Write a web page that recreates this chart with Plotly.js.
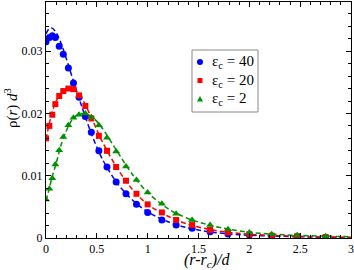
<!DOCTYPE html>
<html><head><meta charset="utf-8">
<script src="https://cdn.plot.ly/plotly-3.0.1.min.js"></script>
<style>html,body{margin:0;padding:0;background:#fff;}#chart{width:354px;height:270px;}</style>
</head><body><div id="chart"></div>
<script>
// sampled points (markers)
var pointX = [0, 0.033, 0.062, 0.092, 0.13, 0.17, 0.22, 0.27, 0.325, 0.387, 0.446, 0.52, 0.6, 0.69, 0.787, 0.89, 1.0, 1.14, 1.28, 1.437, 1.614, 1.79, 2.0, 2.22, 2.47, 2.75];
var eps40 = [0.0315, 0.0322, 0.0325, 0.0322, 0.0308, 0.0295, 0.0273, 0.0249, 0.0226, 0.0195, 0.0170, 0.0140, 0.0114, 0.0090, 0.0071, 0.0054, 0.0041, 0.0029, 0.0021, 0.00155, 0.0010, 0.00064, 0.00048, 0.0003, 0.0002, 0.0001];
var eps20 = [0.0160, 0.0180, 0.0198, 0.0215, 0.0228, 0.0236, 0.0240, 0.0239, 0.0229, 0.0212, 0.0192, 0.0164, 0.0140, 0.0114, 0.0092, 0.0071, 0.0054, 0.0041, 0.0029, 0.0021, 0.0013, 0.0009, 0.0006, 0.00037, 0.00027, 0.00016];
var eps2  = [0.0062, 0.0079, 0.0096, 0.0118, 0.0141, 0.0162, 0.0181, 0.0193, 0.0198, 0.0200, 0.0194, 0.0181, 0.0161, 0.0139, 0.0115, 0.0093, 0.0073, 0.0055, 0.0039, 0.0029, 0.0021, 0.0014, 0.0009, 0.0006, 0.00043, 0.0003];
// fitted curves (dashed lines)
var fitX = [0, 0.03, 0.06, 0.1, 0.15, 0.2, 0.27, 0.35, 0.45, 0.55, 0.7, 0.85, 1.0, 1.2, 1.4, 1.6, 1.8, 2.0, 2.25, 2.5, 2.75, 3.0];
var fit40 = [0.0328, 0.0336, 0.0337, 0.0330, 0.0312, 0.0288, 0.0252, 0.0212, 0.0166, 0.0128, 0.0088, 0.0061, 0.0042, 0.0026, 0.0016, 0.0010, 0.00065, 0.00045, 0.0003, 0.0002, 0.00012, 0.00008];
var fit20 = [0.0158, 0.0182, 0.0202, 0.0220, 0.0233, 0.0240, 0.0240, 0.0225, 0.0192, 0.0156, 0.0112, 0.0078, 0.0054, 0.0035, 0.0022, 0.0014, 0.0009, 0.0006, 0.0004, 0.00027, 0.00017, 0.0001];
var fit2  = [0.0060, 0.0078, 0.0098, 0.0120, 0.0150, 0.0172, 0.0193, 0.0200, 0.0195, 0.0177, 0.0139, 0.0102, 0.0073, 0.0047, 0.0031, 0.0021, 0.0014, 0.0009, 0.0006, 0.0004, 0.0003, 0.0002];
var seriesNames = ["ε<sub>c</sub> = 40", "ε<sub>c</sub> = 20", "ε<sub>c</sub> = 2"];
var xTickVals = [0, 0.5, 1, 1.5, 2, 2.5, 3];
var xTickText = ["0", "0.5", "1", "1.5", "2", "2.5", "3"];
var yTickVals = [0, 0.01, 0.02, 0.03];
var yTickText = ["0", "0.01", "0.02", "0.03"];

var colors = ["#0000ff", "#ff0000", "#009000"];
var symbols = ["circle", "square", "triangle-up"];
var pts = [eps40, eps20, eps2];
var fits = [fit40, fit20, fit2];
var SERIF = "Liberation Serif";
var traces = [];
for (var i = 0; i < 3; i++) {
  traces.push({x: fitX, y: fits[i], mode: "lines", type: "scatter", showlegend: false, hoverinfo: "skip",
    line: {color: colors[i], width: 1.5, dash: "5px,3px", shape: "spline", smoothing: 0.8}});
}
for (var j = 0; j < 3; j++) {
  traces.push({x: pointX, y: pts[j], mode: "markers", type: "scatter", name: seriesNames[j], showlegend: false,
    marker: {color: colors[j], symbol: symbols[j], size: j === 1 ? 6 : 7, line: {width: 0}}});
}
// plot-area pixel helpers for the hand-made legend box (left 46, right 351, top 2, bottom 238)
function px(x) { return (x - 46) / 305; }
function py(y) { return (238 - y) / 236; }
var legendRows = [62, 80.5, 99];
var shapes = [
  {type: "rect", xref: "paper", yref: "paper", x0: px(192), x1: px(258), y0: py(112), y1: py(50),
    line: {color: "#888", width: 1}, fillcolor: "#fff", layer: "above"},
  {type: "circle", xref: "paper", yref: "paper", x0: px(197), x1: px(203), y0: py(legendRows[0] + 3), y1: py(legendRows[0] - 3),
    line: {width: 0}, fillcolor: colors[0], layer: "above"},
  {type: "rect", xref: "paper", yref: "paper", x0: px(197.5), x1: px(202.5), y0: py(legendRows[1] + 2.5), y1: py(legendRows[1] - 2.5),
    line: {width: 0}, fillcolor: colors[1], layer: "above"},
  {type: "path", xref: "paper", yref: "paper",
    path: "M " + px(197) + " " + py(legendRows[2] + 2.5) + " L " + px(203) + " " + py(legendRows[2] + 2.5) + " L " + px(200) + " " + py(legendRows[2] - 3) + " Z",
    line: {width: 0}, fillcolor: colors[2], layer: "above"}
];
var annotations = [
  {text: "<i>(r-r<sub>c</sub>)/d</i>", xref: "paper", yref: "paper", x: 0.531, y: 0, yshift: -22,
    xanchor: "center", yanchor: "middle", showarrow: false, font: {family: SERIF, size: 16, color: "#000"}},
  {text: "ρ(<i>r</i>) <i>d</i><sup>3</sup>", xref: "paper", yref: "paper", x: 0, xshift: -34, y: 0.551,
    xanchor: "center", yanchor: "middle", textangle: -90, showarrow: false, font: {family: SERIF, size: 15, color: "#000"}}
];
for (var k = 0; k < 3; k++) {
  annotations.push({text: seriesNames[k], xref: "paper", yref: "paper", x: px(210), y: py(legendRows[k]),
    xanchor: "left", yanchor: "middle", showarrow: false, font: {family: SERIF, size: 15, color: "#000"}});
}
var font = {family: SERIF, size: 12, color: "#000"};
var axisCommon = {showline: true, linecolor: "#000", linewidth: 1, mirror: "ticks", ticks: "inside", ticklen: 5,
  tickcolor: "#000", tickwidth: 1, showgrid: false, zeroline: false, tickfont: font};
var layout = {
  width: 354, height: 270,
  margin: {l: 46, r: 3, t: 2, b: 32, pad: 0},
  paper_bgcolor: "#fff", plot_bgcolor: "#fff",
  font: font,
  xaxis: Object.assign({}, axisCommon, {range: [0, 3], tickvals: xTickVals, ticktext: xTickText,
    minor: {dtick: 0.1, ticks: "inside", ticklen: 3, tickcolor: "#000", showgrid: false}}),
  yaxis: Object.assign({}, axisCommon, {range: [0, 0.0379], tickvals: yTickVals, ticktext: yTickText,
    minor: {dtick: 0.002, tick0: 0, ticks: "inside", ticklen: 3, tickcolor: "#000", showgrid: false}}),
  showlegend: false,
  shapes: shapes,
  annotations: annotations
};
Plotly.newPlot("chart", traces, layout, {displayModeBar: false, staticPlot: true});
</script></body></html>
